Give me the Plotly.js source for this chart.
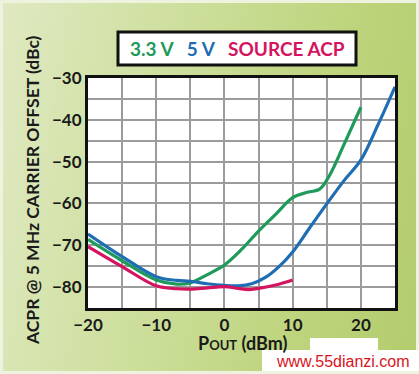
<!DOCTYPE html>
<html>
<head>
<meta charset="utf-8">
<script src="https://cdn.plot.ly/plotly-3.0.1.min.js"></script>
<style>
  html, body { margin:0; padding:0; background:#ffffff; }
  #chart { width:419px; height:374px; position:relative;
    background: linear-gradient(100deg, #dfe9c2 0%, #cfe0a0 35%, #bfd57f 70%, #b3cc6c 100%);
    box-shadow: inset 0 0 0 3px #eef3e0; }
</style>
</head>
<body>
<div id="chart"></div>
<script>
// ---- data ----
const xGreen = [-20, -15, -10, -7, -5, -2.5, 0, 2.5, 5, 7.5, 10, 12, 14, 15.5, 17.5, 20];
const yGreen = [-68.6, -73.7, -78.3, -79.3, -79.0, -77.0, -74.7, -71.0, -66.6, -62.6, -58.6, -57.4, -56.5, -53.0, -46.0, -37.0];

const xBlue = [-20, -15, -10, -7, -5, -2.5, 0, 2, 4, 6, 8, 10, 12.5, 15, 17.5, 20, 22.5, 25];
const yBlue = [-67.3, -72.7, -77.5, -78.4, -78.6, -79.2, -79.6, -79.7, -79.2, -77.7, -75.1, -71.6, -65.8, -60.1, -54.6, -49.6, -41.2, -32.1];

const xRed = [-20, -15, -10, -7, -5, -2.5, 0, 2, 3.5, 5, 7.5, 10];
const yRed = [-70.3, -75.1, -79.7, -80.4, -80.5, -80.2, -79.9, -80.3, -80.6, -80.3, -79.5, -78.3];

const xTickVals = [-20, -10, 0, 10, 20];
const xTickText = ['\u221220', '\u221210', '0', '10', '20'];
const xMinor = [-15, -5, 5, 15];
const yTickVals = [-80, -70, -60, -50, -40, -30];
const yTickText = ['\u221280', '\u221270', '\u221260', '\u221250', '\u221240', '\u221230'];
const yMinor = [-75, -65, -55, -45, -35];

const seriesNames = ['3.3 V', '5 V', 'SOURCE ACP'];
const colors = ['#1e9a5b', '#1f6db3', '#d4145f'];

const FONT = 'Lato, "Open Sans", "DejaVu Sans", sans-serif';

const traces = [
  {x: xGreen, y: yGreen, name: seriesNames[0]},
  {x: xBlue, y: yBlue, name: seriesNames[1]},
  {x: xRed, y: yRed, name: seriesNames[2]}
].map((t, i) => Object.assign(t, {
  type: 'scatter', mode: 'lines',
  line: {color: colors[i], width: 3.2, shape: 'spline', smoothing: 1},
  hoverinfo: 'skip'
}));

const grid = {gridcolor: '#9b9b9b', gridwidth: 2};
const px2x = p => (p - 88) / 307;
const px2y = p => (308 - p) / 230;

const layout = {
  width: 419, height: 374,
  margin: {l: 88, r: 24, t: 78, b: 66, pad: 0},
  paper_bgcolor: 'rgba(0,0,0,0)',
  plot_bgcolor: '#ffffff',
  showlegend: false,
  font: {family: FONT, color: '#1a1a1a'},
  xaxis: {
    range: [-20, 25], tickmode: 'array', tickvals: xTickVals, ticktext: xTickText,
    showgrid: true, gridcolor: grid.gridcolor, gridwidth: grid.gridwidth,
    minor: {tickmode: 'array', tickvals: xMinor, showgrid: true, gridcolor: grid.gridcolor, gridwidth: grid.gridwidth, ticks: ''},
    showline: true, mirror: true, linecolor: '#111', linewidth: 3,
    zeroline: false, ticks: '', ticklabelstandoff: 0,
    tickfont: {family: FONT, size: 17, color: '#1a1a1a', weight: 'bold'}
  },
  yaxis: {
    range: [-85, -30], tickmode: 'array', tickvals: yTickVals, ticktext: yTickText,
    showgrid: true, gridcolor: grid.gridcolor, gridwidth: grid.gridwidth,
    minor: {tickmode: 'array', tickvals: yMinor, showgrid: true, gridcolor: grid.gridcolor, gridwidth: grid.gridwidth, ticks: ''},
    showline: true, mirror: true, linecolor: '#111', linewidth: 3,
    zeroline: false, ticks: '', ticklabelstandoff: 0,
    tickfont: {family: FONT, size: 17, color: '#1a1a1a', weight: 'bold'}
  },
  shapes: [
    // thicker right / bottom frame (shadow look)
    {type: 'line', xref: 'paper', yref: 'paper', layer: 'above',
     x0: px2x(396.5), x1: px2x(396.5), y0: px2y(309.5), y1: px2y(77),
     line: {color: '#111', width: 3}},
    {type: 'line', xref: 'paper', yref: 'paper', layer: 'above',
     x0: px2x(87), x1: px2x(398), y0: px2y(309.5), y1: px2y(309.5),
     line: {color: '#111', width: 3}},
    // legend box
    {type: 'rect', xref: 'paper', yref: 'paper',
     x0: px2x(118), x1: px2x(356), y0: px2y(65), y1: px2y(32),
     fillcolor: '#ffffff', line: {color: '#111', width: 3}},
    // watermark backgrounds
    {type: 'rect', xref: 'paper', yref: 'paper', layer: 'above',
     x0: px2x(310), x1: px2x(378), y0: px2y(351), y1: px2y(338),
     fillcolor: '#ffffff', line: {width: 0}},
    {type: 'rect', xref: 'paper', yref: 'paper', layer: 'above',
     x0: px2x(262), x1: px2x(419), y0: px2y(371), y1: px2y(350),
     fillcolor: '#ffffff', line: {width: 0}}
  ],
  annotations: [
    {xref: 'paper', yref: 'paper', x: px2x(237), y: px2y(48.5),
     xanchor: 'center', yanchor: 'middle', showarrow: false,
     text: '<span style="color:' + colors[0] + '">' + seriesNames[0] + '</span>   ' +
           '<span style="color:' + colors[1] + '">' + seriesNames[1] + '</span>   ' +
           '<span style="color:' + colors[2] + '">' + seriesNames[2] + '</span>',
     font: {family: FONT, size: 19, weight: 'bold'}},
    {xref: 'paper', yref: 'paper', x: px2x(32), y: px2y(190), 
     xanchor: 'center', yanchor: 'middle', showarrow: false, textangle: -90,
     text: 'ACPR @ 5 MHz CARRIER OFFSET (dBc)',
     font: {family: FONT, size: 17.5, weight: 'bold', color: '#1a1a1a'}},
    {xref: 'paper', yref: 'paper', x: px2x(242), y: px2y(343),
     xanchor: 'center', yanchor: 'middle', showarrow: false,
     text: 'P<span style="font-size:13px">OUT</span> (dBm)',
     font: {family: FONT, size: 18, weight: 'bold', color: '#1a1a1a'}},
    {xref: 'paper', yref: 'paper', x: px2x(412), y: px2y(361),
     xanchor: 'right', yanchor: 'middle', showarrow: false,
     text: 'www.55dianzi.com',
     font: {family: '"Liberation Sans", Arial, sans-serif', size: 16, color: '#d8141c'}}
  ]
};

Plotly.newPlot('chart', traces, layout, {staticPlot: true, displayModeBar: false});
</script>
</body>
</html>
